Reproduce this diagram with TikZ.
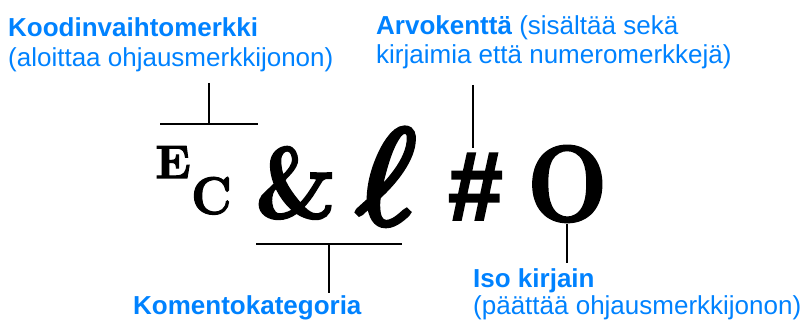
\documentclass[tikz,border=0pt]{standalone}
\usepackage{fontspec}
\newfontfamily\lab{Liberation Sans}
\newfontfamily\hashfont{Liberation Sans Bold}[FakeBold=2]
\newfontfamily\glf{lmroman10-bold.otf}[FakeBold=2.2]
\newfontfamily\ellfont{latinmodern-math.otf}[FakeBold=4]
\definecolor{hpblue}{RGB}{0,130,255}
\begin{document}
\begin{tikzpicture}[x=1pt,y=-1pt,
  lbl/.style={anchor=base west,inner sep=0pt,text=hpblue,font=\lab\fontsize{26}{30}\selectfont},
  glyph/.style={anchor=base west,inner sep=0pt},
  conn/.style={line width=2pt,line cap=butt}]
\useasboundingbox (0,0) rectangle (809,320);
% labels
\node[lbl] (esc1) at (8,37) {\bfseries Koodinvaihtomerkki};
\node[lbl] (esc2) at (8,67) {(aloittaa ohjausmerkkijonon)};
\node[lbl] (val1) at (376,35) {\textbf{Arvokenttä} (sisältää sekä};
\node[lbl] (val2) at (376,64) {kirjaimia että numeromerkkejä)};
\node[lbl] (cat) at (133,315) {\bfseries Komentokategoria};
\node[lbl] (up1) at (473,288) {\bfseries Iso kirjain};
\node[lbl] (up2) at (473,315) {(päättää ohjausmerkkijonon)};
% glyphs
\node[glyph] (E) at (155,178) {\glf\fontsize{47}{47}\selectfont E};
\node[glyph] (C) at (191,214) {\scalebox{0.92}[1]{\glf\fontsize{53}{53}\selectfont C}};
\node[glyph] (amp) at (255,218) {\scalebox{0.9}[1]{\glf\fontsize{101}{101}\selectfont \&}};
\node[glyph] (ell) at (356,224) {\scalebox{1.05}[1]{\ellfont\fontsize{136}{136}\selectfont ℓ}};
\node[glyph] (hash) at (448,220) {\hashfont\fontsize{98}{98}\selectfont \#};
\node[glyph] (O) at (527,221) {\scalebox{0.86}[1]{\glf\fontsize{108}{108}\selectfont O}};
% connector coordinates
\coordinate (escL) at (160,124);
\coordinate (escR) at (258,124);
\coordinate (escT) at (209,83);
\coordinate (valT) at (473,85);
\coordinate (valB) at (473,148);
\coordinate (catL) at (256,244);
\coordinate (catR) at (402,244);
\coordinate (catB) at (329,293);
\coordinate (upT) at (567,224);
\coordinate (upB) at (567,263);
% connectors
\draw[conn] (escL) -- (escR);
\draw[conn] (escT) -- (escT |- escL);
\draw[conn] (valT) -- (valB);
\draw[conn] (catL) -- (catR);
\draw[conn] (catB |- catL) -- (catB);
\draw[conn] (upT) -- (upB);
\end{tikzpicture}
\end{document}
